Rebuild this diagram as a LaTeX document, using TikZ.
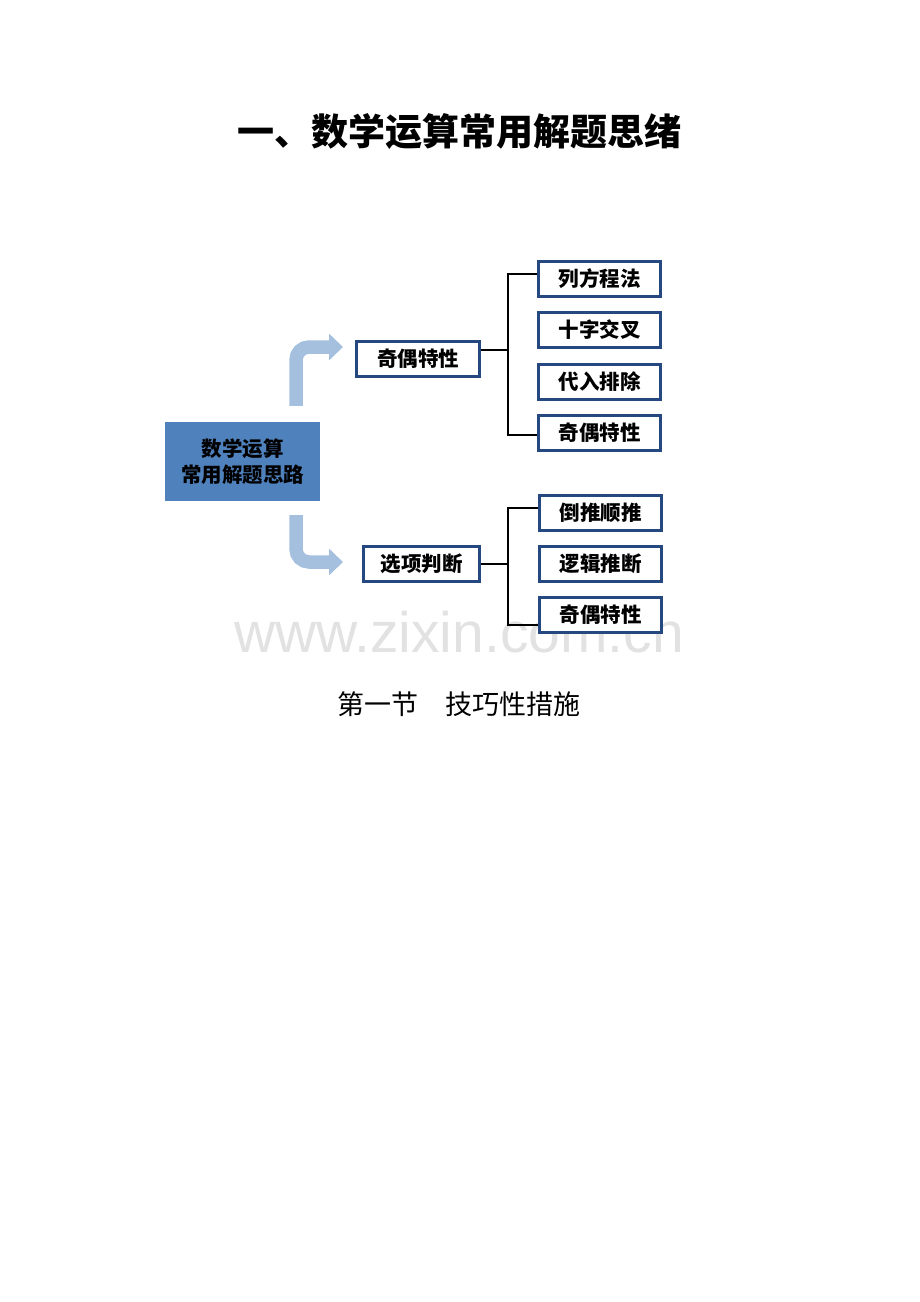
\documentclass[tikz,border=0pt]{standalone}
\usepackage{fontspec}
\usepackage{tikz}
\usetikzlibrary{arrows.meta}
\newfontfamily\cjk{Noto Sans CJK SC}
\newfontfamily\wm{Liberation Sans}
\definecolor{boxblue}{RGB}{37,72,128}
\definecolor{midblue}{RGB}{79,129,189}
\definecolor{arrowblue}{RGB}{165,192,222}
\definecolor{wmgray}{RGB}{226,226,226}

\begin{document}
\begin{tikzpicture}[x=1pt,y=1pt]
	\tikzstyle{every node}+=[inner sep=0pt]
	\tikzstyle{box}=[draw=boxblue, line width=3pt, fill=white, minimum width=122pt, minimum height=35pt, font=\cjk\bfseries\fontsize{20.5}{24}\selectfont]
	\tikzstyle{link}=[black, line width=2pt]
	\tikzstyle{flow}=[arrowblue, line width=13.5pt, rounded corners=13pt, -{Triangle[length=14pt,width=26pt]}]
	\useasboundingbox (0,0) rectangle (920,-1302);
	\node[font=\cjk\bfseries\fontsize{37}{40}\selectfont] (title) at (459,-131.5) {一、数学运算常用解题思绪};
	\node[font=\wm\fontsize{57}{60}\selectfont, text=wmgray, anchor=base] (wm) at (459,-652) {www.zixin.com.cn};
	\node[fill=midblue, minimum width=155pt, minimum height=79pt, align=center, font=\cjk\bfseries\fontsize{20.5}{25.5}\selectfont] (cb) at (242.5,-461.5) {数学运算\\常用解题思路};
	\node[box, minimum width=123pt] (m1) at (418,-359) {奇偶特性};
	\node[box, minimum width=116pt] (m2) at (421.5,-564) {选项判断};
	\node[box] (r1) at (599.5,-279) {列方程法};
	\node[box] (r2) at (599.5,-330) {十字交叉};
	\node[box] (r3) at (599.5,-382) {代入排除};
	\node[box] (r4) at (599.5,-432.5) {奇偶特性};
	\node[box] (r5) at (600.5,-512.5) {倒推顺推};
	\node[box] (r6) at (600.5,-563.5) {逻辑推断};
	\node[box] (r7) at (600.5,-615) {奇偶特性};
	\draw[link] ([yshift=5pt]r1.west) -- ++(-29,0) |- ([yshift=-2.5pt]r4.west);
	\draw[link] ([yshift=9pt]m1.east) -- ++(27,0);
	\draw[link] ([yshift=4.5pt]r5.west) -- ++(-30,0) |- ([yshift=-10pt]r7.west);
	\draw[link] (m2.east) -- ++(27,0);
	\draw[flow] ([xshift=53.5pt,yshift=16pt]cb.north) |- ([xshift=-12pt,yshift=12pt]m1.west);
	\draw[flow] ([xshift=53.5pt,yshift=-14pt]cb.south) |- ([xshift=-19pt,yshift=2pt]m2.west);
	\node[font=\cjk\fontsize{27}{30}\selectfont] (sec) at (459,-704) {第一节　技巧性措施};
\end{tikzpicture}
\end{document}
